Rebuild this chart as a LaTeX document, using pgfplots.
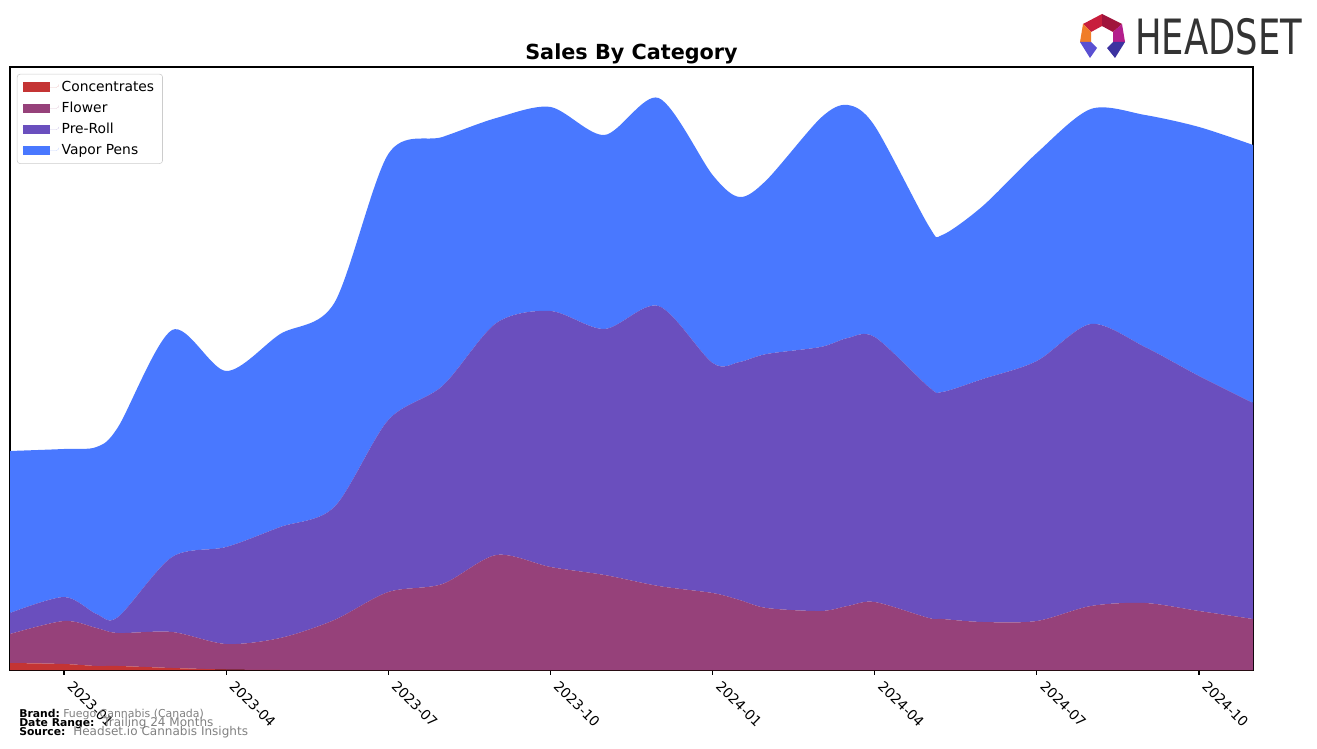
\documentclass[border=0pt]{standalone}
\usepackage{fontspec}
\setmainfont{DejaVu Sans}
\usepackage{graphicx}
\usepackage{pgfplots}
\pgfplotsset{compat=1.18}
\usepackage{pgfplotstable}
\definecolor{conc}{RGB}{196,52,52}
\definecolor{flower}{RGB}{150,65,122}
\definecolor{preroll}{RGB}{106,79,190}
\definecolor{vapor}{RGB}{73,120,255}
\definecolor{legendgray}{RGB}{204,204,204}
\definecolor{footgray}{RGB}{128,128,128}
\definecolor{logogray}{RGB}{51,51,51}
\definecolor{lgred}{RGB}{200,30,60}
\definecolor{lgcrim}{RGB}{160,20,60}
\definecolor{lgmag}{RGB}{180,30,140}
\definecolor{lgorange}{RGB}{240,125,40}
\definecolor{lgblue}{RGB}{90,80,210}
\definecolor{lgindigo}{RGB}{60,50,160}

\pgfplotstableread{
m conc flower preroll vapor
0 7 29 21 162
1 6 43 24 148
1.6 4 38 14 167
2 4 33 16 190
3 2 36 75 227
4 0.5 25.5 97 176
5 0 32 111 193
6 0 50 113 204
7 0 78 172 266
8 0 86 198 249
9 0 115 232 205
10 0 103 256 204
11 0 95 246 194
12 0 84 280 208
13 0 77 230 188
13.5 0 70 238 165
14 0 62 254 174
15 0 59 264 229
15.5 0 64 268 233
16 0 68 265 211
17 0 52 231 161
17.25 0 51 227 157
18 0 48 243 173
19 0 49 260 208
20 0 64 282 215
21 0 67 256 232
22 0 59 235 249
23 0 51 216 258
}\salestable

\begin{document}
\begin{tikzpicture}
\begin{scope}[x=0.72bp,y=-0.72bp,shift={(-10,-670)}]
\path[use as bounding box] (0,0) rectangle (1317,748);
\end{scope}
\begin{axis}[
  scale only axis, width=894.96bp, height=434.16bp,
  xmin=0, xmax=23, ymin=0, ymax=603,
  stack plots=y,
  axis line style={line width=0.8bp},
  xtick={1,4,7,10,13,16,19,22},
  xticklabels={2023-01,2023-04,2023-07,2023-10,2024-01,2024-04,2024-07,2024-10},
  xtick pos=bottom, ytick=\empty,
  tick align=outside, major tick length=3.5bp,
  tick style={black, line width=0.8bp},
  xticklabel style={xshift=7bp, yshift=-2bp, rotate=-45, anchor=north west, font=\fontsize{10}{12}\selectfont, inner sep=1bp},
  legend style={at={(0,1)}, anchor=north west, xshift=5bp, yshift=-5bp,
    draw=legendgray, rounded corners=2bp, font=\fontsize{10}{12}\selectfont,
    fill=white, fill opacity=0.8, text opacity=1, row sep=2.2bp,
    inner xsep=4bp, inner ysep=3bp},
  legend cell align=left,
  legend image code/.code={\path (0bp,0bp) rectangle (26bp,0bp);\fill[#1, sharp corners, fill opacity=1] (0.5bp,-3.5bp) rectangle (19.5bp,3.5bp);},
]
\addplot[fill=conc, draw=none, smooth] table[x=m,y=conc]{\salestable} \closedcycle;
\addplot[fill=flower, draw=none, smooth] table[x=m,y=flower]{\salestable} \closedcycle;
\addplot[fill=preroll, draw=none, smooth] table[x=m,y=preroll]{\salestable} \closedcycle;
\addplot[fill=vapor, draw=none, smooth] table[x=m,y=vapor]{\salestable} \closedcycle;
\legend{Concentrates, Flower, Pre-Roll, Vapor Pens}
\end{axis}
\begin{scope}[x=0.72bp,y=-0.72bp,shift={(-10,-670)}]
\node[anchor=base, inner sep=0, font=\bfseries\fontsize{15}{18}\selectfont] at (631.5,60) {Sales By Category};
\node[anchor=base west, inner sep=0, font=\bfseries\fontsize{7.8}{9}\selectfont] at (19,717) {Brand:};
\node[anchor=base west, inner sep=0, font=\bfseries\fontsize{7.8}{9}\selectfont] at (19,726) {Date Range:};
\node[anchor=base west, inner sep=0, font=\bfseries\fontsize{7.8}{9}\selectfont] at (19,735) {Source:};
\node[anchor=base west, inner sep=0, text=footgray, font=\fontsize{7.9}{9}\selectfont] at (63,717) {Fuego Cannabis (Canada)};
\node[anchor=base west, inner sep=0, text=footgray, font=\fontsize{8.7}{10}\selectfont] at (103,726) {Trailing 24 Months};
\node[anchor=base west, inner sep=0, text=footgray, font=\fontsize{8.7}{10}\selectfont] at (73,735) {Headset.io Cannabis Insights};
\node[anchor=south west, inner sep=0, text=logogray] at (1135,55) {\resizebox{120bp}{26bp}{HEADSET}};
\fill[lgred] (1083,24) -- (1102,14) -- (1102,26) -- (1091,32) -- cycle;
\fill[lgcrim] (1102,14) -- (1122,24) -- (1113,32) -- (1102,26) -- cycle;
\fill[lgmag] (1122,24) -- (1125,42) -- (1113,42) -- (1113,32) -- cycle;
\fill[lgorange] (1083,24) -- (1091,32) -- (1091,42) -- (1080,42) -- cycle;
\fill[lgblue] (1080,42) -- (1091,42) -- (1097,48) -- (1090,58) -- cycle;
\fill[lgindigo] (1125,42) -- (1113,42) -- (1107,48) -- (1115,58) -- cycle;
\end{scope}
\end{tikzpicture}
\end{document}
